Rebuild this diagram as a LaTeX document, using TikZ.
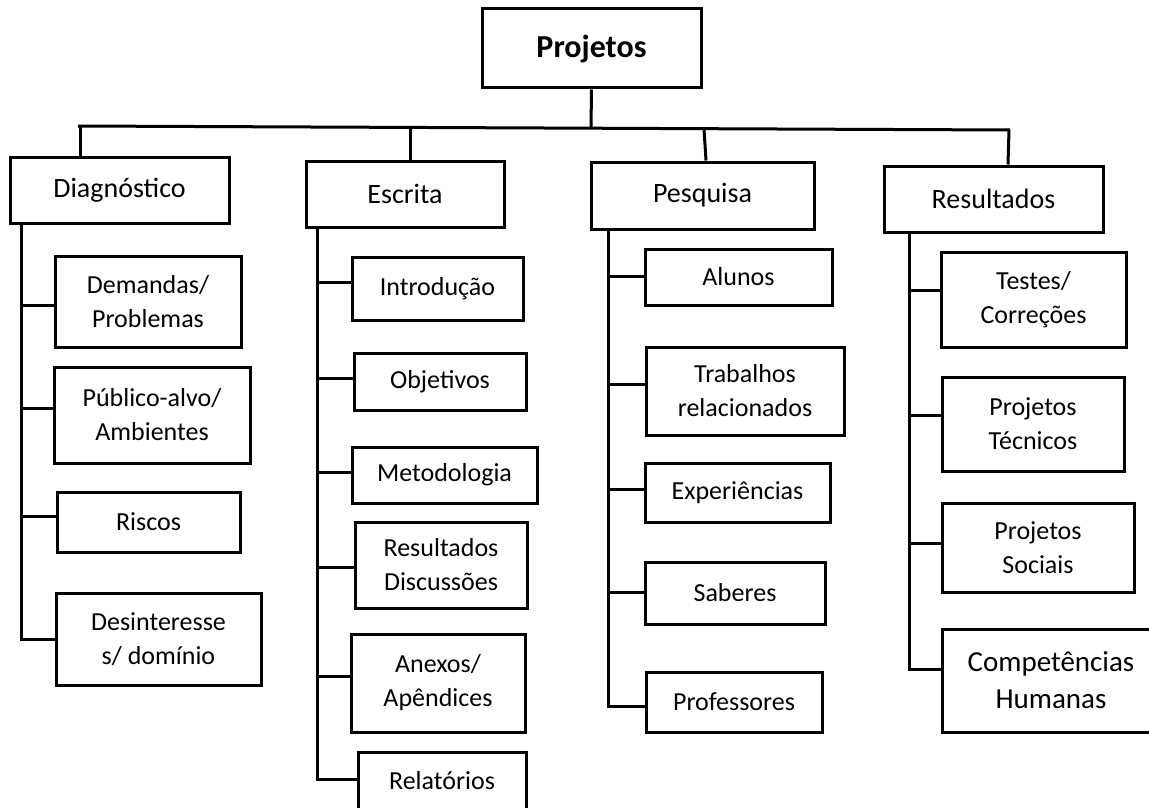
\documentclass[tikz,border=0pt]{standalone}
\usepackage{fontspec}
\setmainfont{Carlito}
\tikzset{
  box/.style={draw, line width=3pt, inner sep=0pt, align=center, font=\fontsize{26}{34}\selectfont},
  topbox/.style={box, font=\fontsize{28}{34}\selectfont},
  conn/.style={line width=3pt},
}
\newcommand{\bx}[6]{\node[#1, minimum width=#2pt, minimum height=#3pt] (#4) at (#5) {#6};}
\begin{document}
\begin{tikzpicture}[x=1pt,y=-1pt]
\useasboundingbox (0,0) rectangle (1149,808);
% root and first level
\bx{box,font=\fontsize{32}{38}\selectfont\bfseries}{219}{79}{proj}{591.5,48.5}{Projetos}
\bx{topbox}{219}{66}{diag}{119.5,190}{Diagnóstico}
\bx{topbox}{198}{66}{escr}{405,194}{Escrita}
\bx{topbox}{223}{67}{pesq}{702.5,195.5}{Pesquisa}
\bx{topbox}{219}{66}{resu}{993.5,199}{Resultados}
% Diagnostico children
\bx{box}{186}{91}{d1}{148,301.5}{Demandas/\\Problemas}
\bx{box}{196}{96}{d2}{152,415}{Público-alvo/\\Ambientes}
\bx{box}{183}{60}{d3}{148.5,522}{Riscos}
\bx{box}{205}{92}{d4}{158.5,639}{Desinteresse\\s/ domínio}
% Escrita children
\bx{box}{171}{63}{e1}{437.5,288.5}{Introdução}
\bx{box}{172}{57}{e2}{440,381.5}{Objetivos}
\bx{box}{185}{56}{e3}{444.5,475}{Metodologia}
\bx{box}{172}{86}{e4}{441,565}{Resultados\\Discussões}
\bx{box}{174}{98}{e5}{438,683}{Anexos/\\Apêndices}
\node[draw, line width=3pt, inner sep=0pt, font=\fontsize{26}{34}\selectfont,
      minimum width=168pt, text height=37pt, text depth=50pt, anchor=north]
      (e6) at (442,751) {Relatórios};
% Pesquisa children
\bx{box}{187}{56}{p1}{738.5,277}{Alunos}
\bx{box}{198}{88}{p2}{745,391}{Trabalhos\\relacionados}
\bx{box}{185}{59}{p3}{737.5,492.5}{Experiências}
\bx{box}{180}{62}{p4}{735,593}{Saberes}
\bx{box}{176}{60}{p5}{734,702}{Professores}
% Resultados children
\bx{box}{185}{95}{r1}{1033.5,299.5}{Testes/\\Correções}
\bx{box}{182}{94}{r2}{1033,424}{Projetos\\Técnicos}
\bx{box}{192}{89}{r3}{1038,547.5}{Projetos\\Sociais}
\bx{box,font=\fontsize{29}{37}\selectfont}{218}{103}{r4}{1051,680.5}{Competências\\Humanas}
% top connectors
\coordinate (hl) at (78,126);
\coordinate (hr) at (1010,130);
\coordinate (hm) at (591,128);
\coordinate (jd) at (80,126);
\coordinate (je) at (410,127.4);
\coordinate (jp) at (704,128.7);
\coordinate (jr) at (1009,130);
\draw[conn] (proj.south) -- (hm);
\draw[conn] (hl) -- (hr);
\draw[conn] (jd) -- (jd |- diag.north);
\draw[conn] (je) -- (je |- escr.north);
\draw[conn] (jp) -- ([xshift=2pt]jp |- pesq.north);
\draw[conn] (jr) -- ([xshift=-1pt]jr |- resu.north);
% branch points
\coordinate (d1b) at ([yshift=-3.5pt]d1.west);
\coordinate (d2b) at ([yshift=7pt]d2.west);
\coordinate (d3b) at ([yshift=6pt]d3.west);
\coordinate (d4b) at (d4.west);
\coordinate (e1b) at ([yshift=6.5pt]e1.west);
\coordinate (e2b) at ([yshift=3.5pt]e2.west);
\coordinate (e3b) at ([yshift=3pt]e3.west);
\coordinate (e4b) at ([yshift=-2pt]e4.west);
\coordinate (e5b) at ([yshift=7pt]e5.west);
\coordinate (e6b) at (358,779);
\coordinate (p1b) at ([yshift=1pt]p1.west);
\coordinate (p2b) at ([yshift=7pt]p2.west);
\coordinate (p3b) at ([yshift=3.5pt]p3.west);
\coordinate (p4b) at ([yshift=1pt]p4.west);
\coordinate (p5b) at ([yshift=-4pt]p5.west);
\coordinate (r1b) at ([yshift=9.5pt]r1.west);
\coordinate (r2b) at ([yshift=9pt]r2.west);
\coordinate (r3b) at ([yshift=4.5pt]r3.west);
\coordinate (r4b) at ([yshift=11.5pt]r4.west);
% trunks
\coordinate (dtr) at (21,0);
\coordinate (etr) at (317,0);
\coordinate (ptr) at (608,0);
\coordinate (rtr) at (909,0);
\draw[conn] (dtr |- diag.south) -- (dtr |- d4b) -- (d4b);
\draw[conn] (etr |- escr.south) -- (etr |- e6b) -- (e6b);
\draw[conn] (ptr |- pesq.south) -- (ptr |- p5b) -- (p5b);
\draw[conn] (rtr |- resu.south) -- (rtr |- r4b) -- (r4b);
\foreach \n in {d1,d2,d3} \draw[conn] (dtr |- \n b) -- (\n b);
\foreach \n in {e1,e2,e3,e4,e5} \draw[conn] (etr |- \n b) -- (\n b);
\foreach \n in {p1,p2,p3,p4} \draw[conn] (ptr |- \n b) -- (\n b);
\foreach \n in {r1,r2,r3} \draw[conn] (rtr |- \n b) -- (\n b);
\end{tikzpicture}
\end{document}
